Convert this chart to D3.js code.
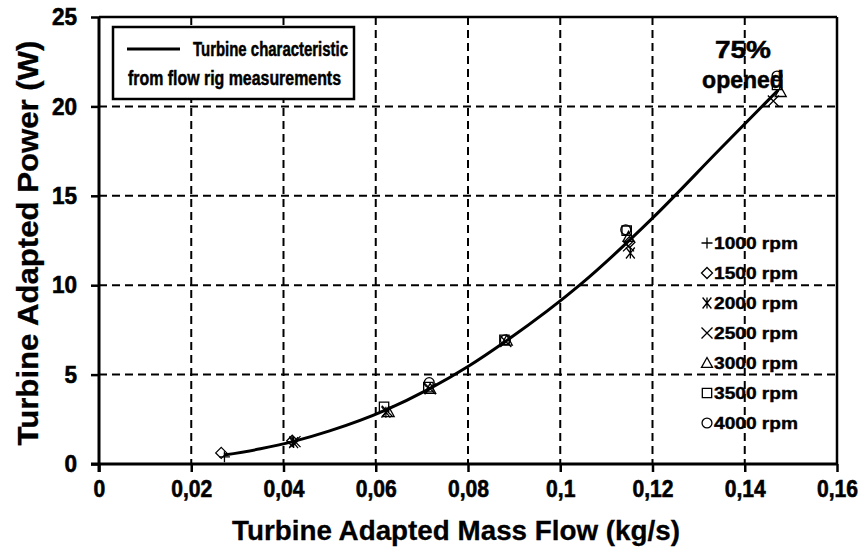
<!DOCTYPE html>
<html><head><meta charset="utf-8">
<script src="https://cdn.jsdelivr.net/npm/d3@7"></script>
<style>
html,body{margin:0;padding:0;background:#fff;}
</style></head>
<body><svg id="c" width="864" height="552"></svg>
<script>
// ---- data ----
const xTicks = [0,0.02,0.04,0.06,0.08,0.1,0.12,0.14,0.16];
const xTickLabels = ["0","0,02","0,04","0,06","0,08","0,1","0,12","0,14","0,16"];
const yTicks = [0,5,10,15,20,25];
const yTickLabels = ["0","5","10","15","20","25"];
const xTitle = "Turbine Adapted Mass Flow (kg/s)";
const yTitle = "Turbine Adapted Power (W)";
const curveX = [0.0271,0.035,0.042,0.05,0.062,0.0716,0.08,0.0881,0.1042,0.12,0.1346,0.1472];
const curveY = [0.5,0.85,1.25,1.85,3.0,4.2,5.45,6.85,10.0,13.75,17.6,20.9];
const seriesNames = ["1000 rpm","1500 rpm","2000 rpm","2500 rpm","3000 rpm","3500 rpm","4000 rpm"];
const seriesSymbols = ["plus","diamond","asterisk","cross","triangle","square","circle"];
const s1000 = [[0.0272,0.4],[0.0419,1.25]];
const s1500 = [[0.0265,0.62],[0.0419,1.3],[0.115,12.4]];
const s2000 = [[0.0422,1.2],[0.0622,2.9],[0.1152,11.8]];
const s2500 = [[0.0425,1.25],[0.0625,2.95],[0.0718,4.2],[0.0882,6.85],[0.1148,12.2],[0.1462,20.3]];
const s3000 = [[0.0628,2.9],[0.0718,4.2],[0.0884,6.9],[0.1148,12.7],[0.1478,20.8]];
const s3500 = [[0.0618,3.2],[0.0714,4.3],[0.0879,6.95],[0.1144,13.05],[0.147,21.2]];
const s4000 = [[0.0716,4.55],[0.0881,6.95],[0.1142,13.1],[0.147,21.7]];
const seriesData = [s1000,s1500,s2000,s2500,s3000,s3500,s4000];
const legendLines = ["Turbine characteristic","from flow rig measurements"];
const noteLines = ["75%","opened"];

// ---- layout ----
const FONT = "'Liberation Sans', Arial, Helvetica, sans-serif";
const L=99, R=837, T=17, B=464;
const svg = d3.select("#c");
const x = d3.scaleLinear().domain([0,0.16]).range([L,R]);
const y = d3.scaleLinear().domain([0,25]).range([B,T]);

function txt(sel, sw){ return sel.attr("font-family",FONT).attr("font-weight","700").attr("fill","#000")
  .attr("stroke","#000").attr("stroke-width",sw==null?0.4:sw); }
function squeeze(sel, k){ sel.each(function(){ const w=this.getComputedTextLength(); d3.select(this).attr("textLength",w*k).attr("lengthAdjust","spacingAndGlyphs"); }); return sel; }
function fitW(sel, w){ return sel.attr("textLength",w).attr("lengthAdjust","spacingAndGlyphs"); }

// gridlines
const g = svg.append("g");
g.selectAll("line.vg").data(xTicks.slice(1,-1)).enter().append("line")
  .attr("x1",d=>x(d)).attr("x2",d=>x(d)).attr("y1",T).attr("y2",B)
  .attr("stroke","#000").attr("stroke-width",2).attr("stroke-dasharray","8,5");
g.selectAll("line.hg").data(yTicks.slice(1,-1)).enter().append("line")
  .attr("y1",d=>y(d)).attr("y2",d=>y(d)).attr("x1",L).attr("x2",R)
  .attr("stroke","#000").attr("stroke-width",2).attr("stroke-dasharray","8,5");

// frame top/right
svg.append("line").attr("x1",L).attr("x2",R).attr("y1",T).attr("y2",T).attr("stroke","#000").attr("stroke-width",2.5);
svg.append("line").attr("x1",R).attr("x2",R).attr("y1",T).attr("y2",B).attr("stroke","#000").attr("stroke-width",2.5);

// axes
const xAxis = d3.axisBottom(x).tickValues(xTicks).tickFormat((d,i)=>xTickLabels[i]).tickSize(8).tickPadding(8).tickSizeOuter(0);
const ax = svg.append("g").attr("transform",`translate(0,${B})`).call(xAxis);
ax.select(".domain").attr("stroke-width",3).attr("d",`M${L-8},0H${R}`);
ax.selectAll(".tick line").attr("stroke-width",2.5);
squeeze(txt(ax.selectAll(".tick text"),0.6).attr("font-size",24), 0.88);

const yAxis = d3.axisLeft(y).tickValues(yTicks).tickFormat((d,i)=>yTickLabels[i]).tickSize(8).tickPadding(14).tickSizeOuter(0);
const ay = svg.append("g").attr("transform",`translate(${L},0)`).call(yAxis);
ay.select(".domain").attr("stroke-width",3).attr("d",`M0,${B+8}V${T}`);
ay.selectAll(".tick line").attr("stroke-width",2.5);
squeeze(txt(ay.selectAll(".tick text"),0.6).attr("font-size",24), 0.94);

// titles
fitW(txt(svg.append("text"),0.3).attr("x",456).attr("y",540).attr("text-anchor","middle").attr("font-size",28).text(xTitle), 448);
fitW(txt(svg.append("text"),0.3).attr("transform",`translate(38,243) rotate(-90)`).attr("text-anchor","middle").attr("font-size",29).text(yTitle), 405);

// curve
const line = d3.line().x(d=>x(d[0])).y(d=>y(d[1])).curve(d3.curveMonotoneX);
svg.append("path").datum(curveX.map((v,i)=>[v,curveY[i]])).attr("d",line)
  .attr("fill","none").attr("stroke","#000").attr("stroke-width",3);

// symbols
function sym(sel, type, s){
  const h=s/2;
  let p;
  if(type==="plus") p=`M${-h},0H${h}M0,${-h}V${h}`;
  else if(type==="diamond") p=`M0,${-h}L${h},0L0,${h}L${-h},0Z`;
  else if(type==="asterisk") p=`M${-h*0.8},${-h}L${h*0.8},${h}M${-h*0.8},${h}L${h*0.8},${-h}M0,${-h}V${h}`;
  else if(type==="cross") p=`M${-h},${-h}L${h},${h}M${-h},${h}L${h},${-h}`;
  else if(type==="triangle") p=`M0,${-h}L${h},${h*0.8}L${-h},${h*0.8}Z`;
  else if(type==="square") p=`M${-h*0.85},${-h*0.85}H${h*0.85}V${h*0.85}H${-h*0.85}Z`;
  if(type==="circle"){ sel.append("circle").attr("r",h*0.9).attr("fill","none").attr("stroke","#000").attr("stroke-width",1.3); return; }
  sel.append("path").attr("d",p).attr("fill","none").attr("stroke","#000").attr("stroke-width",1.3);
}
seriesData.forEach((arr,i)=>{
  arr.forEach(d=>{
    const gg=svg.append("g").attr("transform",`translate(${x(d[0])},${y(d[1])})`);
    sym(gg, seriesSymbols[i], 11);
  });
});

// legend box
svg.append("rect").attr("x",113).attr("y",27).attr("width",241).attr("height",72).attr("fill","#fff").attr("stroke","#000").attr("stroke-width",2.5);
svg.append("line").attr("x1",127).attr("x2",180).attr("y1",49).attr("y2",49).attr("stroke","#000").attr("stroke-width",3);
fitW(txt(svg.append("text"),0.5).attr("x",193).attr("y",56).attr("font-size",20).text(legendLines[0]), 155);
fitW(txt(svg.append("text"),0.5).attr("x",128).attr("y",85).attr("font-size",20).text(legendLines[1]), 213);

// note
fitW(txt(svg.append("text"),0.5).attr("x",743).attr("y",58).attr("text-anchor","middle").attr("font-size",23).text(noteLines[0]), 56);
txt(svg.append("text"),0.5).attr("x",743).attr("y",88).attr("text-anchor","middle").attr("font-size",23).text(noteLines[1]);

// symbol legend
seriesNames.forEach((n,i)=>{
  const yy=243+i*30;
  const gg=svg.append("g").attr("transform",`translate(707,${yy})`);
  sym(gg, seriesSymbols[i], 11);
  fitW(txt(svg.append("text"),0.4).attr("x",714).attr("y",yy+6).attr("font-size",16).text(n), 84);
});
</script></body></html>
